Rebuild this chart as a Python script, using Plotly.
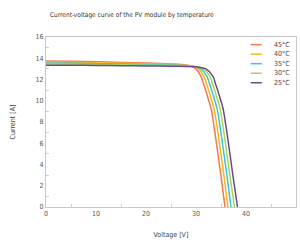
import plotly.graph_objects as go

labels = ["45°C", "40°C", "35°C", "30°C", "25°C"]
colors = ["#f4794a", "#f9b51c", "#3cc4d4", "#a9d45a", "#6a4a8c"]

v_45 = [0, 5, 10, 15, 20, 25, 28, 29, 30, 31, 31.5, 32, 32.5, 33, 34, 35, 35.8]
i_45 = [13.75, 13.71, 13.66, 13.61, 13.55, 13.46, 13.36, 13.25, 13.0, 12.3, 11.6, 10.9, 10.1, 9.3, 6.3, 2.9, 0]

v_40 = [0, 5, 10, 15, 20, 25, 28, 29.3, 30.5, 31.6, 32.1, 32.6, 33.1, 33.6, 34.6, 35.6, 36.4]
i_40 = [13.65, 13.62, 13.58, 13.54, 13.49, 13.42, 13.34, 13.24, 13.0, 12.3, 11.6, 10.9, 10.1, 9.3, 6.3, 2.9, 0]

v_35 = [0, 5, 10, 15, 20, 25, 28, 29.6, 31.0, 32.2, 32.7, 33.2, 33.7, 34.2, 35.2, 36.2, 37.0]
i_35 = [13.55, 13.52, 13.49, 13.46, 13.42, 13.37, 13.31, 13.23, 13.0, 12.3, 11.6, 10.9, 10.1, 9.3, 6.3, 2.9, 0]

v_30 = [0, 5, 10, 15, 20, 25, 28, 29.9, 31.5, 32.8, 33.3, 33.8, 34.3, 34.8, 35.8, 36.8, 37.7]
i_30 = [13.45, 13.43, 13.41, 13.38, 13.35, 13.31, 13.27, 13.21, 13.0, 12.3, 11.6, 10.9, 10.1, 9.3, 6.3, 2.9, 0]

v_25 = [0, 5, 10, 15, 20, 25, 28, 30.2, 32.0, 33.4, 33.9, 34.4, 34.9, 35.4, 36.4, 37.4, 38.3]
i_25 = [13.35, 13.34, 13.32, 13.30, 13.28, 13.25, 13.22, 13.19, 13.0, 12.3, 11.6, 10.9, 10.1, 9.3, 6.3, 2.9, 0]

series_v = [v_45, v_40, v_35, v_30, v_25]
series_i = [i_45, i_40, i_35, i_30, i_25]

FONT = "Liberation Sans Narrow, DejaVu Sans Condensed, Arial Narrow, sans-serif"

fig = go.Figure()
for name, col, vv, ii in zip(labels, colors, series_v, series_i):
    fig.add_trace(go.Scatter(x=vv, y=ii, mode="lines", name=name, showlegend=False,
                             line=dict(color=col, width=1.5, shape="spline", smoothing=0.8)))

# compact legend drawn in paper coordinates
for k, (name, col) in enumerate(zip(labels, colors)):
    yy = 0.955 - k * 0.056
    fig.add_shape(type="line", xref="paper", yref="paper", x0=0.819, x1=0.863,
                  y0=yy, y1=yy, line=dict(color=col, width=1.5))
    fig.add_annotation(xref="paper", yref="paper", x=0.903, y=yy, text=name,
                       showarrow=False, xanchor="left", yanchor="middle",
                       font=dict(size=7, color="#444444", family=FONT))

axis_common = dict(showline=True, linecolor="#c8c8c8", linewidth=1, mirror=True,
                   showgrid=False, zeroline=False, ticks="",
                   tickfont=dict(size=7, color="#555555", family=FONT),
                   minor=dict(ticks="inside", ticklen=3, tickcolor="#d0d0d0"))

fig.update_layout(
    width=300, height=249,
    margin=dict(l=46, r=4, t=37, b=42),
    paper_bgcolor="white", plot_bgcolor="white",
    font=dict(family=FONT, size=7, color="#444444"),
    title=dict(text="Current-voltage curve of the PV module by temperature",
               x=50/300, xanchor="left", y=1-15/249, yanchor="middle",
               font=dict(size=6.5, color="#333333", family=FONT)),
    xaxis=dict(range=[0, 50], dtick=10, tick0=0,
               title=dict(text="Voltage [V]", standoff=14, font=dict(size=7, color="#444444")),
               **axis_common),
    yaxis=dict(range=[0, 16], dtick=2, tick0=0,
               title=dict(text="Current [A]", standoff=19, font=dict(size=7, color="#444444")),
               **axis_common),
    showlegend=False,
)
fig.update_xaxes(minor=dict(dtick=5))
fig.update_yaxes(minor=dict(dtick=1))

fig.write_html("out.html", config={"displayModeBar": False},
               post_script="document.body.style.margin='0';")
